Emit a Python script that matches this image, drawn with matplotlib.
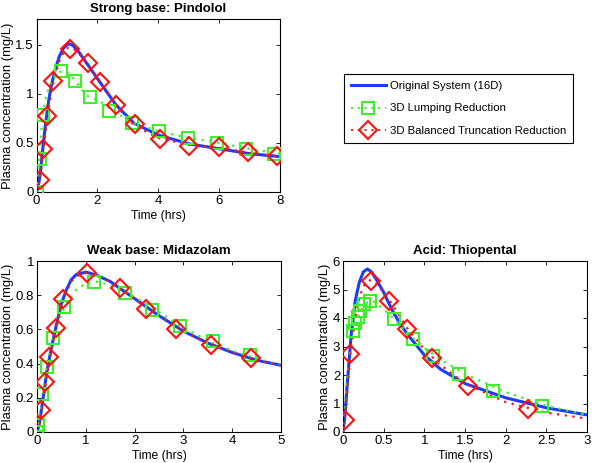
import matplotlib
matplotlib.use("Agg")
import matplotlib.pyplot as plt
import numpy as np

plt.rcParams["font.family"] = ["Liberation Sans", "DejaVu Sans"]

BLUE = "#1a3cff"
GREEN = "#3fee2a"
RED = "#ff1010"

# ---- Strong base: Pindolol ----
pin_t = [0, 0.05, 0.1, 0.15, 0.2, 0.3, 0.4, 0.5, 0.6, 0.75, 0.9, 1.05, 1.2, 1.4, 1.65, 2.1, 2.6, 3.2, 4.0, 5.0, 6.0, 7.0, 8.0]
pin_full = [0, 0.05, 0.14, 0.27, 0.42, 0.70, 0.93, 1.10, 1.23, 1.38, 1.47, 1.51, 1.49, 1.42, 1.31, 1.11, 0.89, 0.70, 0.58, 0.49, 0.44, 0.39, 0.36]
pin_lump = [0, 0.2, 0.38, 0.58, 0.78, 0.95, 1.06, 1.13, 1.18, 1.22, 1.23, 1.21, 1.16, 1.08, 0.98, 0.92, 0.81, 0.70, 0.62, 0.55, 0.50, 0.44, 0.39]
pin_bt = [0, 0.04, 0.11, 0.22, 0.36, 0.62, 0.85, 1.03, 1.17, 1.33, 1.43, 1.47, 1.46, 1.41, 1.31, 1.12, 0.89, 0.68, 0.55, 0.48, 0.45, 0.40, 0.36]
pin_lump_mt = [0.0, 0.11, 0.22, 0.82, 1.28, 1.77, 2.37, 3.14, 4.04, 4.97, 5.92, 6.87, 7.80]
pin_lump_my = [0.0, 0.34, 0.78, 1.23, 1.13, 0.97, 0.82, 0.70, 0.62, 0.55, 0.50, 0.44, 0.39]
pin_bt_mt = [0.13, 0.22, 0.35, 0.55, 1.11, 1.68, 2.10, 2.60, 3.22, 4.07, 5.00, 5.98, 6.94, 7.91]
pin_bt_my = [0.12, 0.44, 0.77, 1.13, 1.45, 1.31, 1.12, 0.89, 0.69, 0.54, 0.47, 0.46, 0.41, 0.37]

# ---- Weak base: Midazolam ----
mid_t = [0, 0.05, 0.1, 0.2, 0.3, 0.4, 0.5, 0.6, 0.7, 0.8, 1.0, 1.2, 1.5, 2.0, 2.5, 3.0, 3.5, 4.0, 4.5, 5.0]
mid_full = [0, 0.05, 0.15, 0.35, 0.50, 0.63, 0.75, 0.83, 0.89, 0.92, 0.935, 0.92, 0.88, 0.78, 0.68, 0.59, 0.52, 0.465, 0.42, 0.39]
mid_lump = [0, 0.07, 0.17, 0.37, 0.52, 0.62, 0.69, 0.75, 0.79, 0.83, 0.87, 0.88, 0.86, 0.79, 0.70, 0.61, 0.535, 0.475, 0.43, 0.39]
mid_bt = [0, 0.04, 0.13, 0.33, 0.48, 0.62, 0.74, 0.82, 0.88, 0.91, 0.93, 0.92, 0.88, 0.78, 0.68, 0.59, 0.52, 0.465, 0.42, 0.39]
mid_lump_mt = [0.0, 0.02, 0.11, 0.21, 0.33, 0.56, 1.17, 1.80, 2.35, 2.93, 3.61, 4.36]
mid_lump_my = [0.0, 0.04, 0.22, 0.38, 0.55, 0.73, 0.88, 0.815, 0.715, 0.62, 0.53, 0.45]
mid_bt_mt = [0.075, 0.16, 0.25, 0.38, 0.54, 1.03, 1.70, 2.23, 2.85, 3.56, 4.38]
mid_bt_my = [0.127, 0.29, 0.44, 0.61, 0.78, 0.93, 0.84, 0.72, 0.60, 0.51, 0.43]

# ---- Acid: Thiopental ----
thi_t = [0, 0.025, 0.05, 0.1, 0.15, 0.2, 0.25, 0.3, 0.35, 0.4, 0.5, 0.6, 0.7, 0.8, 1.0, 1.2, 1.5, 2.0, 2.5, 3.0]
thi_full = [0, 0.6, 1.6, 3.4, 4.6, 5.25, 5.62, 5.72, 5.62, 5.4, 4.9, 4.3, 3.8, 3.4, 2.7, 2.2, 1.7, 1.2, 0.85, 0.6]
thi_lump = [0, 0.9, 1.8, 3.2, 3.8, 4.15, 4.4, 4.55, 4.6, 4.55, 4.3, 4.05, 3.75, 3.45, 2.95, 2.55, 2.03, 1.40, 0.92, 0.6]
thi_bt = [0, 0.5, 1.3, 3.0, 4.0, 4.7, 5.1, 5.3, 5.33, 5.25, 4.9, 4.5, 4.05, 3.6, 2.9, 2.35, 1.7, 1.05, 0.68, 0.47]
thi_lump_mt = [0.12, 0.15, 0.18, 0.21, 0.26, 0.33, 0.63, 0.865, 1.11, 1.43, 1.84, 2.45]
thi_lump_my = [3.54, 3.81, 4.04, 4.24, 4.49, 4.60, 3.95, 3.28, 2.66, 2.03, 1.43, 0.91]
thi_bt_mt = [0.025, 0.08, 0.35, 0.56, 0.79, 1.10, 1.54, 2.27]
thi_bt_my = [0.41, 2.73, 5.3, 4.6, 3.61, 2.6, 1.6, 0.79]

W, H = 602, 463
fig = plt.figure(figsize=(W / 100, H / 100), dpi=100)


def make_ax(x0, x1, y0, y1):
    return fig.add_axes([x0 / W, 1 - y1 / H, (x1 - x0) / W, (y1 - y0) / H])


def draw(ax, t, full, lump, bt, lmt, lmy, bmt, bmy, title, xlim, ylim, xticks, yticks, xtl, ytl):
    ax.plot(t, full, color=BLUE, lw=2.2, zorder=2)
    ax.plot(t, lump, color=GREEN, lw=1.6, ls=(0, (1, 2.5)), zorder=3)
    ax.plot(t, bt, color=RED, lw=1.6, ls=(0, (1, 2.5)), zorder=3)
    ax.plot(lmt, lmy, ls="none", marker="s", ms=8, mfc="none", mec=GREEN, mew=1.5, zorder=4)
    ax.plot(bmt, bmy, ls="none", marker="D", ms=9, mfc="none", mec=RED, mew=1.5, zorder=5)
    ax.set_xlim(*xlim)
    ax.set_ylim(*ylim)
    ax.set_xticks(xticks)
    ax.set_xticklabels(xtl)
    ax.set_yticks(yticks)
    ax.set_yticklabels(ytl)
    ax.tick_params(direction="in", top=True, right=True, labelsize=9.5, length=3, width=0.6, pad=2)
    for s in ax.spines.values():
        s.set_linewidth(0.8)
    ax.set_title(title, fontsize=9.5, fontweight="bold", pad=5)
    ax.set_xlabel("Time (hrs)", fontsize=8.7, labelpad=2)
    ax.set_ylabel("Plasma concentration (mg/L)", fontsize=9.4, labelpad=1)


ax1 = make_ax(36.5, 280, 19, 192)
draw(ax1, pin_t, pin_full, pin_lump, pin_bt, pin_lump_mt, pin_lump_my, pin_bt_mt, pin_bt_my,
     "Strong base: Pindolol", (0, 8), (0, 1.76), [0, 2, 4, 6, 8], [0, 0.5, 1, 1.5],
     ["0", "2", "4", "6", "8"], ["0", "0.5", "1", "1.5"])

ax2 = make_ax(37, 281, 261, 432)
draw(ax2, mid_t, mid_full, mid_lump, mid_bt, mid_lump_mt, mid_lump_my, mid_bt_mt, mid_bt_my,
     "Weak base: Midazolam", (0, 5), (0, 1), [0, 1, 2, 3, 4, 5], [0, 0.2, 0.4, 0.6, 0.8, 1],
     ["0", "1", "2", "3", "4", "5"], ["0", "0.2", "0.4", "0.6", "0.8", "1"])

ax3 = make_ax(343, 587, 261, 432)
draw(ax3, thi_t, thi_full, thi_lump, thi_bt, thi_lump_mt, thi_lump_my, thi_bt_mt, thi_bt_my,
     "Acid: Thiopental", (0, 3), (0, 6), [0, 0.5, 1, 1.5, 2, 2.5, 3], [0, 1, 2, 3, 4, 5, 6],
     ["0", "0.5", "1", "1.5", "2", "2.5", "3"], ["0", "1", "2", "3", "4", "5", "6"])

h1, = ax1.plot([], [], color=BLUE, lw=2.2)
h2, = ax1.plot([], [], color=GREEN, lw=1.4, ls=(0, (1, 2.5)), marker="s", ms=8, mfc="none", mec=GREEN, mew=1.5)
h3, = ax1.plot([], [], color=RED, lw=1.4, ls=(0, (1, 2.5)), marker="D", ms=9, mfc="none", mec=RED, mew=1.5)
leg = fig.legend([h1, h2, h3],
                 ["Original System (16D)", "3D Lumping Reduction", "3D Balanced Truncation Reduction"],
                 loc="center", bbox_to_anchor=(458.5 / W, 1 - 108.5 / H), fontsize=8.2,
                 fancybox=False, edgecolor="black", framealpha=1, handlelength=3.1,
                 labelspacing=1.1, borderpad=0.6, handletextpad=0.35, borderaxespad=0)
leg.get_frame().set_linewidth(0.8)

fig.savefig("out.png", dpi=100)
